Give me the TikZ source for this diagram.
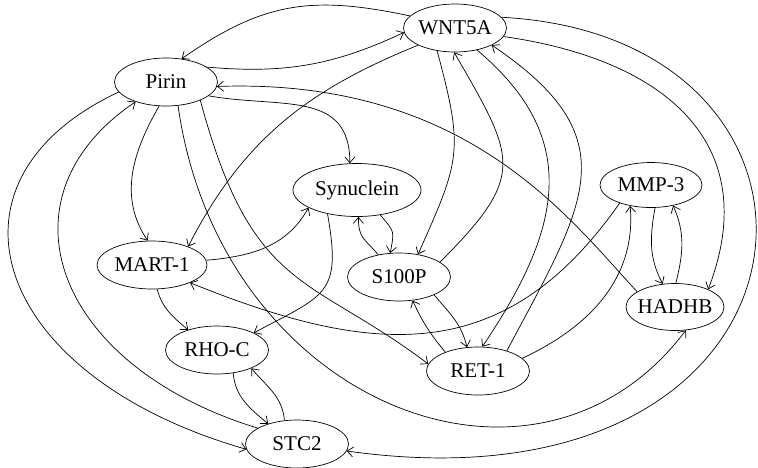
\documentclass[tikz,border=0pt]{standalone}
\usepackage{fontspec}
\setmainfont{Liberation Serif}
\usetikzlibrary{shapes.geometric,arrows.meta}
\begin{document}
\begin{tikzpicture}[x=1pt,y=-1pt,
  gene/.style={ellipse,draw,line width=0.7pt,inner xsep=-6pt,inner ysep=0pt,
    minimum width=103pt,minimum height=48pt,font=\fontsize{21}{25}\selectfont},
  link/.style={line width=0.7pt,-{Straight Barb[length=6pt,width=10pt]}}]
\useasboundingbox (0,0) rectangle (758,467);
\node[gene] (wnt) at (455,28) {WNT5A};
\node[gene] (pirin) at (166,82) {Pirin};
\node[gene,minimum width=128pt,minimum height=53pt] (syn) at (357,190) {Synuclein};
\node[gene,minimum width=102pt,minimum height=45pt] (mmp) at (651,185) {MMP-3};
\node[gene,minimum width=110pt] (mart) at (152,265) {MART-1};
\node[gene] (s100) at (399,277) {S100P};
\node[gene,minimum width=98pt,minimum height=47pt] (hadhb) at (675,307) {HADHB};
\node[gene] (rhoc) at (217,350) {RHO-C};
\node[gene] (ret) at (478,371) {RET-1};
\node[gene] (stc) at (297,444) {STC2};
% from WNT5A
\draw[link] (wnt.165) to[out=168,in=35,looseness=1.1] (pirin.56);
\draw[link] (pirin.20) to[out=-5,in=205] (wnt.185);
\draw[link] (wnt.205) to[out=202,in=63] (mart.27);
\draw[link] (wnt.232) to[out=-75,in=66,looseness=1.3] (s100.50);
\draw[link] (s100.20) to[out=45,in=-60,looseness=1.5] (wnt.268);
\draw[link] (wnt.-45) to[out=-40,in=56,looseness=1.2] (ret.80);
\draw[link] (ret.35) to[out=62,in=-34,looseness=1.4] (wnt.-25);
\draw[link] (wnt.-10) to[out=-8,in=69,looseness=1.25] (hadhb.28);
\draw[link] (wnt.13) to[out=-3,in=-8,out distance=380pt,in distance=500pt] (stc.-8);
% from Pirin
\draw[link] (pirin.-18) to[out=-10,in=90,looseness=1.2] (syn.105);
\draw[link] (pirin.-106) to[out=240,in=124] (mart.100);
\draw[link] (pirin.-28) to[out=-75,in=143,out distance=200pt,in distance=150pt] (ret.172);
\draw[link] (pirin.-63) to[out=-82,in=233,out distance=300pt,in distance=250pt] (hadhb.-65);
\draw[link] (pirin.192) to[out=205,in=164,out distance=210pt,in distance=265pt] (stc.186);
\draw[link] (stc.158) to[out=163,in=214,out distance=212pt,in distance=172pt] (pirin.213);
\draw[link] (hadhb.158) to[out=133,in=2,out distance=100pt,in distance=250pt] (pirin.-5);
% the rest
\draw[link] (mart.5) to[out=5,in=241] (syn.200);
\draw[link] (mart.-78) to[out=-75,in=140] (rhoc.145);
\draw[link] (syn.219) to[out=-80,in=28,looseness=1.5] (rhoc.25);
\draw[link] (s100.133) to[out=130,in=-90,looseness=1.3] (syn.-87);
\draw[link] (syn.-47) to[out=-50,in=80,looseness=1.5] (s100.110);
\draw[link] (mmp.210) to[out=235,in=-22,out distance=200pt,in distance=200pt] (mart.-25);
\draw[link] (ret.16) to[out=25,in=-85] (mmp.-135);
\draw[link] (mmp.-80) to[out=-100,in=118] (hadhb.118);
\draw[link] (hadhb.88) to[out=76,in=-66] (mmp.-43);
\draw[link] (rhoc.-55) to[out=-85,in=140] (stc.145);
\draw[link] (stc.118) to[out=95,in=-50] (rhoc.-28);
\draw[link] (s100.-27) to[out=-50,in=103] (ret.115);
\draw[link] (ret.150) to[out=130,in=-65] (s100.-60);
\end{tikzpicture}
\end{document}
